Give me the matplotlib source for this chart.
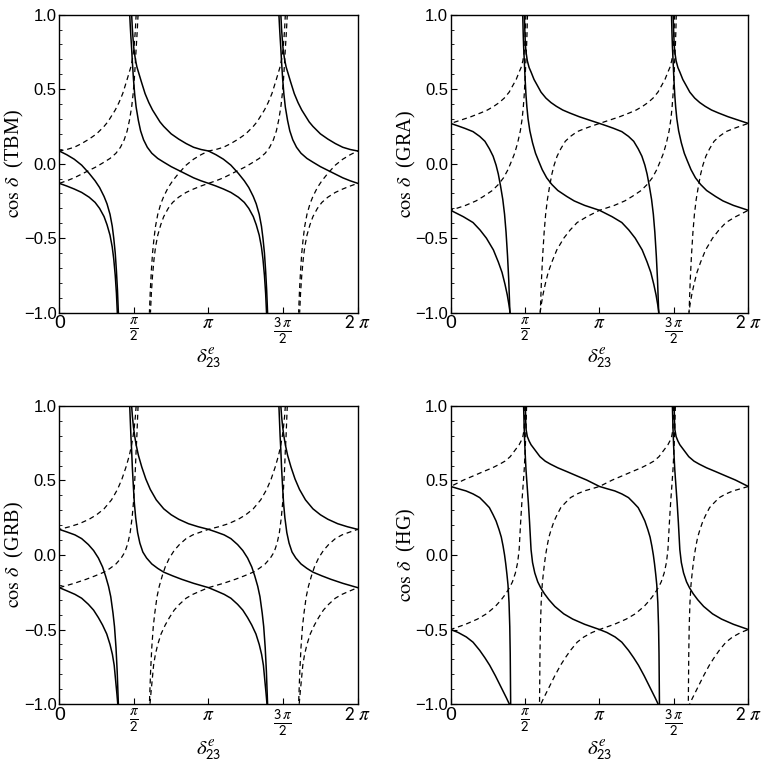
import numpy as np
import matplotlib
matplotlib.use('Agg')
import matplotlib.pyplot as plt
from matplotlib.ticker import MultipleLocator, FuncFormatter

plt.rcParams['mathtext.fontset'] = 'stix'
plt.rcParams['font.family'] = ['Liberation Sans', 'DejaVu Sans']

# Solid branches, x in units of pi.
# Each branch runs from where it enters at cos d = 1 to where it leaves at cos d = -1;
# the curves repeat every pi, the dashed ones are the same branches mirrored about pi/2.

# TBM
tbm_a_x = [0.485, 0.490, 0.495, 0.500, 0.510, 0.520, 0.535, 0.550, 0.575, 0.600, 0.625,
           0.650, 0.675, 0.700, 0.750, 0.800, 0.850, 0.900, 0.950, 1.000, 1.050, 1.100,
           1.150, 1.200, 1.240, 1.270, 1.300, 1.320, 1.340, 1.355, 1.365, 1.375, 1.383,
           1.390, 1.396]
tbm_a_y = [1.00, 0.90, 0.83, 0.77, 0.70, 0.65, 0.60, 0.55, 0.47, 0.41, 0.36,
           0.32, 0.28, 0.25, 0.20, 0.165, 0.135, 0.11, 0.095, 0.085, 0.06, 0.03,
           -0.01, -0.065, -0.115, -0.16, -0.22, -0.27, -0.34, -0.42, -0.50, -0.60, -0.72,
           -0.85, -1.00]
tbm_b_x = [0.472, 0.476, 0.480, 0.485, 0.490, 0.497, 0.505, 0.515, 0.530, 0.545, 0.565,
           0.590, 0.620, 0.660, 0.700, 0.750, 0.800, 0.850, 0.900, 0.950, 1.000, 1.050,
           1.100, 1.150, 1.200, 1.240, 1.270, 1.300, 1.320, 1.340, 1.355, 1.365, 1.375,
           1.383, 1.389]
tbm_b_y = [1.00, 0.92, 0.85, 0.77, 0.68, 0.57, 0.47, 0.38, 0.29, 0.22, 0.16,
           0.11, 0.07, 0.035, 0.01, -0.02, -0.045, -0.07, -0.095, -0.115, -0.132, -0.15,
           -0.17, -0.193, -0.225, -0.26, -0.30, -0.355, -0.41, -0.48, -0.56, -0.64, -0.75,
           -0.87, -1.00]

# GRA
gra_a_x = [0.495, 0.498, 0.502, 0.506, 0.515, 0.527, 0.540, 0.560, 0.585, 0.607, 0.640,
           0.674, 0.710, 0.753, 0.800, 0.864, 0.930, 1.000, 1.050, 1.095, 1.150, 1.195,
           1.230, 1.260, 1.285, 1.305, 1.320, 1.335, 1.350, 1.362, 1.372, 1.382, 1.390,
           1.398]
gra_a_y = [1.00, 0.90, 0.80, 0.75, 0.69, 0.645, 0.615, 0.565, 0.52, 0.48, 0.44,
           0.41, 0.385, 0.36, 0.34, 0.315, 0.293, 0.27, 0.253, 0.237, 0.215, 0.183,
           0.15, 0.10, 0.05, -0.01, -0.07, -0.15, -0.24, -0.34, -0.46, -0.62, -0.78,
           -1.00]
gra_b_x = [0.484, 0.487, 0.490, 0.495, 0.500, 0.506, 0.512, 0.520, 0.532, 0.550, 0.570,
           0.590, 0.615, 0.645, 0.680, 0.720, 0.780, 0.830, 0.900, 1.000, 1.085, 1.150,
           1.197, 1.240, 1.287, 1.320, 1.345, 1.365, 1.380, 1.392, 1.399]
gra_b_y = [1.00, 0.88, 0.79, 0.683, 0.57, 0.46, 0.38, 0.30, 0.22, 0.14, 0.07,
           0.02, -0.04, -0.095, -0.14, -0.18, -0.22, -0.25, -0.28, -0.313, -0.356, -0.395,
           -0.445, -0.50, -0.579, -0.66, -0.73, -0.81, -0.88, -0.95, -1.00]

# GRB
grb_a_x = [0.485, 0.490, 0.497, 0.505, 0.515, 0.530, 0.553, 0.580, 0.610, 0.650, 0.700,
           0.750, 0.800, 0.866, 0.930, 1.000, 1.050, 1.105, 1.150, 1.195, 1.230, 1.262,
           1.290, 1.310, 1.330, 1.345, 1.360, 1.370, 1.380, 1.388, 1.396]
grb_a_y = [1.00, 0.93, 0.86, 0.80, 0.74, 0.67, 0.59, 0.51, 0.44, 0.37, 0.31,
           0.27, 0.24, 0.21, 0.19, 0.172, 0.155, 0.135, 0.11, 0.07, 0.03, -0.02,
           -0.08, -0.14, -0.21, -0.28, -0.39, -0.48, -0.62, -0.78, -1.00]
grb_b_x = [0.472, 0.476, 0.480, 0.485, 0.490, 0.496, 0.503, 0.512, 0.525, 0.540, 0.560,
           0.585, 0.620, 0.660, 0.700, 0.760, 0.820, 0.900, 1.000, 1.050, 1.105, 1.150,
           1.195, 1.230, 1.262, 1.290, 1.318, 1.340, 1.356, 1.368, 1.378, 1.386, 1.392]
grb_b_y = [1.00, 0.90, 0.80, 0.70, 0.58, 0.47, 0.35, 0.25, 0.15, 0.08, 0.02,
           -0.02, -0.06, -0.09, -0.115, -0.14, -0.163, -0.19, -0.219, -0.24, -0.264, -0.29,
           -0.331, -0.37, -0.42, -0.47, -0.53, -0.60, -0.667, -0.74, -0.846, -0.93, -1.00]

# HG
hg_a_x = [0.502, 0.504, 0.507, 0.515, 0.527, 0.540, 0.570, 0.600, 0.635, 0.670, 0.720,
          0.780, 0.850, 0.914, 1.000, 1.050, 1.103, 1.150, 1.195, 1.230, 1.260, 1.285,
          1.305, 1.325, 1.340, 1.352, 1.362, 1.370, 1.378, 1.385, 1.392, 1.397, 1.400,
          1.403]
hg_a_y = [1.00, 0.90, 0.84, 0.795, 0.765, 0.74, 0.70, 0.66, 0.63, 0.61, 0.585,
          0.56, 0.53, 0.503, 0.46, 0.445, 0.43, 0.41, 0.385, 0.35, 0.318, 0.27,
          0.228, 0.17, 0.12, 0.06, 0.0, -0.06, -0.13, -0.20, -0.32, -0.48, -0.66,
          -1.00]
hg_b_x = [0.490, 0.494, 0.498, 0.502, 0.506, 0.514, 0.522, 0.530, 0.540, 0.550, 0.565,
          0.585, 0.605, 0.630, 0.660, 0.700, 0.760, 0.820, 0.900, 1.000, 1.050, 1.105,
          1.150, 1.195, 1.230, 1.262, 1.300, 1.330, 1.355, 1.375, 1.394]
hg_b_y = [1.00, 0.85, 0.74, 0.65, 0.573, 0.46, 0.349, 0.22, 0.036, -0.05, -0.12,
          -0.18, -0.22, -0.26, -0.30, -0.345, -0.395, -0.43, -0.465, -0.50, -0.52, -0.55,
          -0.585, -0.64, -0.69, -0.74, -0.81, -0.87, -0.92, -0.96, -1.00]

panels = [
    ('TBM', tbm_a_x, tbm_a_y, tbm_b_x, tbm_b_y),
    ('GRA', gra_a_x, gra_a_y, gra_b_x, gra_b_y),
    ('GRB', grb_a_x, grb_a_y, grb_b_x, grb_b_y),
    ('HG', hg_a_x, hg_a_y, hg_b_x, hg_b_y),
]

xtick_pos = [0, 0.5, 1, 1.5, 2]
xtick_lab = ['0', r'$\frac{\pi}{\mathsf{2}}$', r'$\pi$',
             r'$\frac{\mathsf{3}\,\pi}{\mathsf{2}}$', r'$\mathsf{2}\ \pi$']

fig = plt.figure(figsize=(7.63, 7.63), dpi=100)
rects = [
    [0.0777, 0.5902, 0.3911, 0.3906],
    [0.5907, 0.5902, 0.3900, 0.3906],
    [0.0777, 0.0773, 0.3911, 0.3906],
    [0.5907, 0.0773, 0.3900, 0.3906],
]

minus_fmt = FuncFormatter(lambda v, pos: ('%.1f' % v).replace('-', '\u2212'))

for rect, (name, ax_, ay_, bx_, by_) in zip(rects, panels):
    ax = fig.add_axes(rect)
    for bx, by in ((ax_, ay_), (bx_, by_)):
        bx = np.array(bx)
        for k in (-1, 0, 1, 2):
            ax.plot((bx + k) * np.pi, by, color='black', lw=1.1)
            ax.plot((1 - bx + k) * np.pi, by, color='black', lw=0.9,
                    linestyle=(0, (4, 3)))
    ax.set_xlim(0, 2 * np.pi)
    ax.set_ylim(-1, 1)
    ax.set_xticks([p * np.pi for p in xtick_pos])
    ax.set_xticklabels(xtick_lab, fontsize=14)
    # the stacked fractions are drawn a bit larger
    for i in (1, 3):
        ax.get_xticklabels()[i].set_fontsize(15.5)
    ax.yaxis.set_major_locator(MultipleLocator(0.5))
    ax.yaxis.set_minor_locator(MultipleLocator(0.1))
    ax.yaxis.set_major_formatter(minus_fmt)
    ax.tick_params(axis='y', labelsize=12, pad=2)
    ax.tick_params(axis='x', pad=2)
    ax.tick_params(which='major', direction='in', length=4, width=0.8)
    ax.tick_params(which='minor', direction='in', length=2, width=0.6)
    for s in ax.spines.values():
        s.set_linewidth(1.0)
    ax.set_ylabel(r'$\cos\,\delta$  (' + name + ')', fontsize=14.5,
                  family='Liberation Serif')
    ax.yaxis.set_label_coords(-0.11, 0.5)
    ax.set_xlabel(r'$\delta^{e}_{\mathsf{23}}$', fontsize=15)
    ax.xaxis.set_label_coords(0.5, -0.115)

fig.savefig('out.png', dpi=100)
